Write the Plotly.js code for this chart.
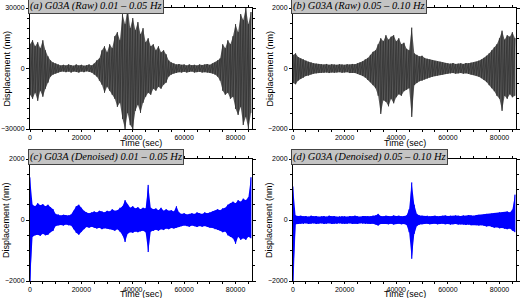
<!DOCTYPE html>
<html>
<head>
<meta charset="utf-8">
<script src="https://cdn.plot.ly/plotly-3.0.1.min.js"></script>
<style>
  html, body { margin: 0; padding: 0; background: #fff; }
  #myPlot { width: 520px; height: 298px; }
</style>
</head>
<body>
<div id="myPlot"></div>
<script>
// sample times (sec), one envelope reading every 1000 s
const timeSec = Array.from({ length: 87 }, (_, i) => i * 1000);

// (a) raw 0.01-0.05 Hz, upper / lower envelope (nm)
const rawLowHi = [
  12000, 14000, 11000, 13000, 10000, 14000, 9000, 6000, 4000, 3000,
  2500, 2000, 1500, 1800, 1500, 2000, 1600, 1400, 2000, 1500,
  1800, 1400, 1600, 2000, 1500, 2500, 4000, 5000, 9000, 11000,
  8000, 12000, 10000, 16000, 18000, 14000, 27000, 22000, 30000, 20000,
  25000, 19000, 23000, 17000, 20000, 13000, 15000, 11000, 12000, 9000,
  11000, 8000, 9000, 7000, 4000, 3000, 2500, 2000, 2200, 1800,
  2000, 1500, 2000, 1600, 1800, 1500, 2000, 1700, 2000, 2200,
  1800, 2500, 3000, 4000, 5000, 12000, 10000, 14000, 12000, 16000,
  22000, 18000, 27000, 24000, 30000, 22000, 28000
];
const rawLowLo = [
  -13000, -15000, -12000, -16000, -11000, -14000, -10000, -7000, -4000, -3000,
  -2500, -2000, -1600, -1500, -1800, -1500, -2000, -1500, -1700, -2000,
  -1500, -1800, -1400, -1700, -2000, -3000, -4000, -6000, -8000, -12000,
  -9000, -11000, -13000, -15000, -19000, -17000, -25000, -30000, -22000, -28000,
  -30000, -21000, -18000, -22000, -17000, -14000, -12000, -13000, -10000, -11000,
  -9000, -10000, -8000, -7000, -4000, -3000, -2500, -2200, -1800, -2000,
  -1600, -2000, -1700, -1500, -2000, -1800, -1600, -2000, -1800, -2000,
  -2200, -2500, -3000, -4000, -6000, -11000, -13000, -12000, -15000, -14000,
  -20000, -23000, -19000, -28000, -24000, -30000, -22000
];

// (b) raw 0.05-0.10 Hz
const rawHighHi = [
  450, 500, 380, 330, 300, 260, 220, 200, 170, 160,
  150, 140, 130, 150, 120, 140, 130, 120, 140, 130,
  120, 140, 130, 150, 140, 170, 200, 240, 300, 350,
  450, 550, 600, 800, 1000, 900, 1100, 950, 1050, 1100,
  900, 1000, 800, 850, 650, 600, 1350, 500, 450, 400,
  420, 350, 320, 300, 280, 250, 230, 220, 200, 180,
  170, 160, 180, 150, 160, 170, 150, 180, 170, 190,
  200, 220, 260, 300, 350, 420, 500, 600, 700, 800,
  1000, 1250, 950, 1100, 1050, 1200, 1000
];
const rawHighLo = [
  -480, -520, -400, -340, -300, -250, -230, -190, -170, -160,
  -150, -140, -140, -130, -150, -130, -140, -130, -120, -140,
  -130, -120, -150, -140, -150, -180, -210, -250, -300, -380,
  -450, -550, -650, -900, -1500, -1050, -1100, -1250, -1000, -1150,
  -950, -850, -900, -750, -700, -650, -1600, -550, -480, -420,
  -400, -360, -330, -300, -270, -250, -230, -210, -200, -180,
  -170, -160, -150, -170, -160, -150, -170, -160, -180, -200,
  -210, -230, -270, -320, -380, -450, -550, -650, -750, -900,
  -1000, -1400, -900, -1000, -850, -950, -900
];

// (c) denoised 0.01-0.05 Hz
const denLowHi = [
  1400, 500, 450, 550, 480, 520, 450, 500, 420, 350,
  200, 180, 150, 170, 160, 150, 180, 300, 450, 500,
  400, 300, 250, 220, 250, 280, 250, 300, 280, 250,
  300, 280, 350, 300, 320, 400, 450, 650, 500, 400,
  450, 380, 420, 350, 400, 380, 1150, 400, 350, 380,
  320, 400, 300, 350, 300, 320, 280, 450, 250, 200,
  220, 180, 200, 220, 200, 250, 220, 200, 250, 220,
  250, 280, 300, 350, 320, 380, 400, 500, 550, 600,
  550, 650, 600, 700, 650, 750, 1400
];
const denLowLo = [
  -2000, -550, -500, -480, -520, -450, -500, -480, -400, -350,
  -200, -170, -160, -180, -150, -170, -180, -300, -420, -480,
  -380, -300, -230, -250, -220, -260, -280, -250, -300, -270,
  -280, -300, -320, -350, -300, -380, -500, -720, -450, -400,
  -420, -380, -400, -370, -350, -400, -1050, -380, -360, -320,
  -350, -300, -330, -280, -300, -260, -280, -250, -230, -200,
  -180, -200, -220, -180, -200, -230, -200, -220, -200, -230,
  -250, -260, -300, -320, -350, -400, -380, -500, -550, -600,
  -780, -550, -650, -600, -650, -550, -600
];

// (d) denoised 0.05-0.10 Hz
const denHighHi = [
  1100, 150, 130, 140, 120, 130, 110, 140, 120, 130,
  110, 120, 130, 110, 140, 120, 130, 110, 120, 130,
  120, 110, 130, 120, 140, 120, 110, 130, 120, 130,
  120, 140, 150, 200, 130, 120, 140, 130, 120, 150,
  130, 140, 120, 130, 150, 350, 1230, 500, 200, 150,
  140, 130, 140, 120, 130, 140, 120, 130, 140, 150,
  130, 140, 130, 150, 140, 130, 150, 140, 160, 150,
  140, 160, 170, 160, 180, 200, 190, 210, 230, 220,
  250, 240, 260, 280, 250, 340, 830
];
const denHighLo = [
  -2000, -140, -130, -120, -130, -110, -130, -120, -110, -130,
  -120, -110, -130, -120, -110, -130, -120, -130, -110, -120,
  -130, -120, -110, -130, -120, -130, -110, -120, -130, -120,
  -130, -120, -140, -180, -130, -120, -130, -140, -120, -150,
  -130, -120, -140, -130, -160, -400, -1270, -450, -200, -150,
  -140, -130, -120, -140, -130, -120, -140, -130, -120, -140,
  -130, -150, -140, -130, -150, -140, -150, -160, -150, -170,
  -160, -170, -180, -170, -190, -210, -200, -230, -250, -240,
  -270, -260, -290, -300, -280, -350, -400
];

const panelTitles = [
  '(a) G03A (Raw) 0.01 – 0.05 Hz',
  '(b) G03A (Raw) 0.05 – 0.10 Hz',
  '(c) G03A (Denoised) 0.01 – 0.05 Hz',
  '(d) G03A (Denoised) 0.05 – 0.10 Hz'
];

const W = 520, H = 298;
const colX = [[30, 252], [293, 516]];
const rowY = [[8, 129], [159, 281]];
const sans = 'Liberation Sans, Arial, sans-serif';

// filled band between the envelopes + vertical strokes on top of it
function waveTraces(hi, lo, fillColor, strokeColor, xa, ya) {
  const xs = [];
  const ys = [];
  for (let i = 0; i < timeSec.length; i++) {
    xs.push(timeSec[i], timeSec[i]);
    ys.push(hi[i], lo[i]);
  }
  return [
    { x: timeSec, y: hi, xaxis: xa, yaxis: ya, mode: 'lines', type: 'scatter',
      line: { width: 0, color: fillColor }, hoverinfo: 'skip', showlegend: false },
    { x: timeSec, y: lo, xaxis: xa, yaxis: ya, mode: 'lines', type: 'scatter',
      fill: 'tonexty', fillcolor: fillColor,
      line: { width: 0, color: fillColor }, hoverinfo: 'skip', showlegend: false },
    { x: xs, y: ys, xaxis: xa, yaxis: ya, mode: 'lines', type: 'scatter',
      line: { color: strokeColor, width: 0.8 }, hoverinfo: 'skip', showlegend: false }
  ];
}

function xAxis(col, row, anchor) {
  return {
    domain: [colX[col][0] / W, colX[col][1] / W],
    anchor: anchor,
    range: [0, 86400],
    showline: true, linecolor: '#000', linewidth: 1, mirror: 'ticks',
    ticks: 'outside', ticklen: 2, tickwidth: 1, tickcolor: '#000',
    tick0: 0, dtick: 20000, tickformat: 'd',
    minor: { dtick: 5000, ticks: 'outside', ticklen: 2, tickcolor: '#000' },
    tickfont: { family: sans, size: 7, color: '#000' },
    showgrid: false, zeroline: false
  };
}

function yAxis(col, row, anchor, lim, minorStep) {
  return {
    domain: [1 - rowY[row][1] / H, 1 - rowY[row][0] / H],
    anchor: anchor,
    range: [-lim, lim],
    showline: true, linecolor: '#000', linewidth: 1, mirror: 'ticks',
    ticks: 'outside', ticklen: 3, tickwidth: 1, tickcolor: '#000',
    tick0: 0, dtick: lim, tickformat: 'd',
    minor: { dtick: minorStep, ticks: 'outside', ticklen: 2, tickcolor: '#000' },
    tickfont: { family: sans, size: 7, color: '#000' },
    showgrid: false, zeroline: false
  };
}

const traces = [].concat(
  waveTraces(rawLowHi, rawLowLo, '#585858', '#333333', 'x', 'y'),
  waveTraces(rawHighHi, rawHighLo, '#585858', '#333333', 'x2', 'y2'),
  waveTraces(denLowHi, denLowLo, '#0000ff', '#0000ff', 'x3', 'y3'),
  waveTraces(denHighHi, denHighLo, '#0000ff', '#0000ff', 'x4', 'y4')
);

const annotations = [];
panelTitles.forEach((t, k) => {
  const col = k % 2, row = Math.floor(k / 2);
  const left = colX[col][0], right = colX[col][1];
  const top = rowY[row][0], bottom = rowY[row][1];
  // panel title box
  annotations.push({
    text: t, xref: 'paper', yref: 'paper',
    x: (left - 2) / W, xanchor: 'left',
    y: 1 - (top - 2) / H, yanchor: 'middle',
    showarrow: false,
    bgcolor: '#c4c4c4', bordercolor: '#444', borderwidth: 1, borderpad: 1,
    font: { family: 'Liberation Serif, serif', size: 10.5, style: 'italic', color: '#000' }
  });
  // x axis title
  annotations.push({
    text: 'Time (sec)', xref: 'paper', yref: 'paper',
    x: (left + right) / 2 / W, xanchor: 'center',
    y: 1 - (bottom + (row === 0 ? 14 : 13)) / H, yanchor: 'middle',
    showarrow: false,
    font: { family: sans, size: 9, color: '#000' }
  });
  // y axis title
  annotations.push({
    text: 'Displacement (nm)', xref: 'paper', yref: 'paper',
    x: (left - 24) / W, xanchor: 'center',
    y: 1 - (top + bottom) / 2 / H, yanchor: 'middle',
    textangle: -90, showarrow: false,
    font: { family: sans, size: 9, color: '#000' }
  });
});

const layout = {
  width: W, height: H,
  margin: { l: 0, r: 0, t: 0, b: 0 },
  paper_bgcolor: '#fff', plot_bgcolor: '#fff',
  showlegend: false,
  xaxis: xAxis(0, 0, 'y'),
  yaxis: yAxis(0, 0, 'x', 30000, 5000),
  xaxis2: xAxis(1, 0, 'y2'),
  yaxis2: yAxis(1, 0, 'x2', 2000, 500),
  xaxis3: xAxis(0, 1, 'y3'),
  yaxis3: yAxis(0, 1, 'x3', 2000, 500),
  xaxis4: xAxis(1, 1, 'y4'),
  yaxis4: yAxis(1, 1, 'x4', 2000, 500),
  annotations: annotations
};

Plotly.newPlot('myPlot', traces, layout, { staticPlot: true, displayModeBar: false });
</script>
</body>
</html>
